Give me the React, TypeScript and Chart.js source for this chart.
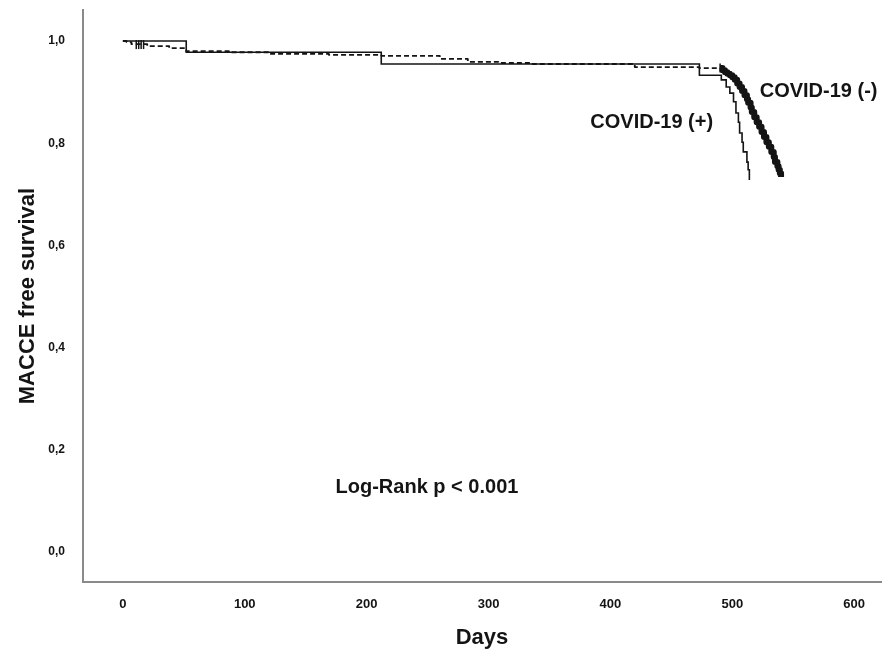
import React, { useEffect, useRef } from 'react';
import { Chart, registerables } from 'chart.js';

Chart.register(...registerables);

// Tick values
const xTickValues = [0, 100, 200, 300, 400, 500, 600];
const yTickValues = [0, 0.2, 0.4, 0.6, 0.8, 1.0];

// COVID-19 (+) : solid Kaplan-Meier curve
const covidPosDays = [0, 52, 212, 473, 491, 495, 498, 501, 503, 505, 506, 508, 509, 512, 513, 514];
const covidPosSurv = [1.0, 0.978, 0.955, 0.933, 0.924, 0.91, 0.898, 0.881, 0.859, 0.841, 0.82, 0.802, 0.783, 0.763, 0.748, 0.728];

// COVID-19 (-) : dashed Kaplan-Meier curve
const covidNegDays = [0, 3, 7, 20, 38, 52, 87, 120, 169, 212, 260, 283, 308, 335, 420, 473, 490, 492, 494, 496, 498, 500, 502, 504, 506, 508, 510, 512, 513, 515, 516, 518, 520, 522, 524, 526, 528, 530, 532, 534, 535, 537, 538, 539, 540];
const covidNegSurv = [1.0, 0.998, 0.994, 0.99, 0.986, 0.98, 0.978, 0.975, 0.973, 0.971, 0.965, 0.959, 0.957, 0.955, 0.949, 0.947, 0.947, 0.943, 0.939, 0.936, 0.933, 0.929, 0.924, 0.917, 0.91, 0.902, 0.894, 0.886, 0.879, 0.87, 0.861, 0.851, 0.841, 0.832, 0.822, 0.812, 0.802, 0.793, 0.783, 0.773, 0.763, 0.755, 0.748, 0.741, 0.734];
const covidNegDenseFrom = 490; // day after which censor marks merge into a thick line

// Censor marks
const censorPosDays = [13, 17];
const censorPosSurv = [0.993, 0.993];
const censorNegDays = [11, 15, 490];
const censorNegSurv = [0.993, 0.993, 0.947];

// Text labels on the plot
const labelTexts = ['COVID-19 (-)', 'COVID-19 (+)', 'Log-Rank p < 0.001'];
const labelDays = [522.5, 383.5, 174.5];
const labelSurv = [0.902, 0.84, 0.127];

const FONT = "'Liberation Sans', Arial, Helvetica, sans-serif";
const INK = '#141414';

const textPlugin = {
  id: 'kmText',
  afterDatasetsDraw(chart: any) {
    const { ctx, scales } = chart;
    ctx.save();
    ctx.font = `bold 20px ${FONT}`;
    ctx.fillStyle = INK;
    ctx.textAlign = 'left';
    ctx.textBaseline = 'middle';
    labelTexts.forEach((t, i) => {
      ctx.fillText(t, scales.x.getPixelForValue(labelDays[i]), scales.y.getPixelForValue(labelSurv[i]));
    });
    ctx.restore();
  },
};

const zeroPadding = (s: any) => {
  s.paddingLeft = 0;
  s.paddingRight = 0;
  s.paddingTop = 0;
  s.paddingBottom = 0;
};

export default function App() {
  const ref = useRef<HTMLCanvasElement | null>(null);

  useEffect(() => {
    if (!ref.current) return;
    const denseIdx = covidNegDays.indexOf(covidNegDenseFrom);
    const chart = new Chart(ref.current, {
      type: 'line',
      data: {
        datasets: [
          {
            label: 'COVID-19 (+)',
            data: covidPosDays.map((d, i) => ({ x: d, y: covidPosSurv[i] })),
            stepped: 'before',
            borderColor: INK,
            borderWidth: 1.6,
            pointRadius: 0,
            fill: false,
          },
          {
            label: 'COVID-19 (-)',
            data: covidNegDays.map((d, i) => ({ x: d, y: covidNegSurv[i] })),
            stepped: 'before',
            borderColor: INK,
            borderWidth: 1.8,
            borderDash: [5, 3],
            borderJoinStyle: 'round',
            pointRadius: 0,
            fill: false,
            segment: {
              borderWidth: (c: any) => (c.p0DataIndex >= denseIdx ? 6 : 1.8),
              borderDash: (c: any) => (c.p0DataIndex >= denseIdx ? [] : [5, 3]),
            },
          },
          {
            label: 'censor +',
            data: censorPosDays.map((d, i) => ({ x: d, y: censorPosSurv[i] })),
            showLine: false,
            pointStyle: 'line',
            rotation: 90,
            pointRadius: 4.5,
            borderColor: INK,
            borderWidth: 1.5,
          },
          {
            label: 'censor -',
            data: censorNegDays.map((d, i) => ({ x: d, y: censorNegSurv[i] })),
            showLine: false,
            pointStyle: 'line',
            rotation: 90,
            pointRadius: 4.5,
            borderColor: INK,
            borderWidth: 1.5,
          },
        ],
      } as any,
      options: {
        animation: false,
        responsive: false,
        events: [],
        layout: { padding: { top: 10, right: -2, left: 0, bottom: 0 } },
        plugins: { legend: { display: false }, tooltip: { enabled: false } },
        scales: {
          x: {
            type: 'linear',
            min: -32.7,
            max: 622,
            afterBuildTicks: (s: any) => {
              s.ticks = xTickValues.map((v) => ({ value: v }));
            },
            afterFit: (s: any) => {
              s.height = 70;
              zeroPadding(s);
            },
            grid: { display: false, drawTicks: false },
            border: { display: true, color: '#8a8a8a', width: 2 },
            ticks: {
              font: { family: FONT, size: 13, weight: 'bold' },
              color: INK,
              padding: 15,
              maxRotation: 0,
              autoSkip: false,
              callback: (v: any) => String(v),
            },
            title: {
              display: true,
              text: 'Days',
              font: { family: FONT, size: 22, weight: 'bold' },
              color: INK,
              padding: { top: 0, bottom: 1 },
            },
          },
          y: {
            type: 'linear',
            min: -0.0587,
            max: 1.0607,
            afterBuildTicks: (s: any) => {
              s.ticks = yTickValues.map((v) => ({ value: v }));
            },
            afterFit: (s: any) => {
              s.width = 83;
              zeroPadding(s);
            },
            grid: { display: false, drawTicks: false },
            border: { display: true, color: '#8a8a8a', width: 2 },
            ticks: {
              font: { family: FONT, size: 12, weight: 'bold' },
              color: INK,
              padding: 18,
              autoSkip: false,
              callback: (v: any) => Number(v).toFixed(1).replace('.', ','),
            },
            title: {
              display: true,
              text: 'MACCE free survival',
              font: { family: FONT, size: 22, weight: 'bold' },
              color: INK,
              padding: { top: 15, bottom: 0 },
            },
          },
        },
      } as any,
      plugins: [textPlugin],
    });
    return () => chart.destroy();
  }, []);

  return (
    <div style={{ position: 'absolute', left: 0, top: 0, width: 887, height: 652, background: '#fff' }}>
      <canvas ref={ref} width={887} height={652} style={{ display: 'block' }} />
    </div>
  );
}
